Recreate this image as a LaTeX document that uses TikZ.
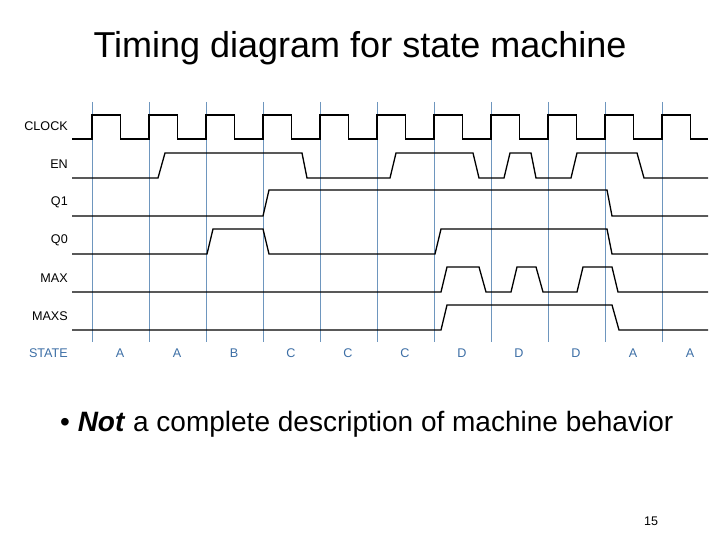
\documentclass[tikz,border=0pt]{standalone}
\usepackage{fontspec}
\setmainfont{Liberation Sans}
\begin{document}
\begin{tikzpicture}[x=1pt,y=-1pt,
  wave/.style={line width=1.3pt,black,line join=miter},
  grid/.style={line width=0.7pt,color=gridblue},
  lab/.style={font=\fontsize{12.6}{14}\selectfont,anchor=east,inner sep=0pt},
  st/.style={font=\fontsize{12.6}{14}\selectfont,color=stateblue,inner sep=0pt}]
\definecolor{gridblue}{RGB}{110,150,190}
\definecolor{stateblue}{RGB}{60,110,165}
\useasboundingbox (0,0) rectangle (720,540);
\node[font=\fontsize{36}{42}\selectfont] (title) at (360,48) {Timing diagram for state machine};
\foreach \x in {92,149,206,263,320,377,434,491,548,605,662}
  \draw[grid] (\x,102) -- (\x,342);
\node[lab] (lclk) at (68,126) {CLOCK};
\node[lab] (len) at (68,164) {EN};
\node[lab] (lq1) at (68,202) {Q1};
\node[lab] (lq0) at (68,240) {Q0};
\node[lab] (lmax) at (68,278) {MAX};
\node[lab] (lmaxs) at (68,316) {MAXS};
\node[lab,color=stateblue] (lst) at (68,353) {STATE};
\foreach \x/\s [count=\i] in {120/A,177/A,234/B,291/C,348/C,405/C,462/D,519/D,576/D,633/A,690/A}
  \node[st] (s\i) at (\x,353) {\s};
% CLOCK
\draw[wave] (72,139)
  \foreach \x in {92,149,206,263,320,377,434,491,548,605,662} {
    -- (\x,139) -- (\x,115) -- (\x+28.5,115) -- (\x+28.5,139) }
  -- (708,139);
% EN
\draw[wave] (72,178) -- (158,178) -- (165,153) -- (302,153) -- (307,178)
  -- (390,178) -- (396,153) -- (473,153) -- (479,178)
  -- (504,178) -- (510,153) -- (531,153) -- (536,178)
  -- (571,178) -- (577,153) -- (637,153) -- (644,178) -- (708,178);
% Q1
\draw[wave] (72,216) -- (263,216) -- (269,190) -- (607,190) -- (612,216) -- (708,216);
% Q0
\draw[wave] (72,254) -- (207,254) -- (213,229) -- (263,229) -- (269,254)
  -- (435,254) -- (441,229) -- (607,229) -- (612,254) -- (708,254);
% MAX
\draw[wave] (72,292) -- (441,292) -- (447,267) -- (479,267) -- (486,292)
  -- (511,292) -- (517,267) -- (536,267) -- (543,292)
  -- (577,292) -- (583,267) -- (612,267) -- (618,292) -- (708,292);
% MAXS
\draw[wave] (72,330) -- (441,330) -- (447,305) -- (612,305) -- (619,330) -- (708,330);
\node[font=\fontsize{28}{32}\selectfont,anchor=west,inner sep=0pt] (bullet) at (60,424) {•\ \textbf{\textit{Not}} a complete description of machine behavior};
\node[font=\fontsize{12.5}{14}\selectfont] (pg) at (651,521) {15};
\end{tikzpicture}
\end{document}
